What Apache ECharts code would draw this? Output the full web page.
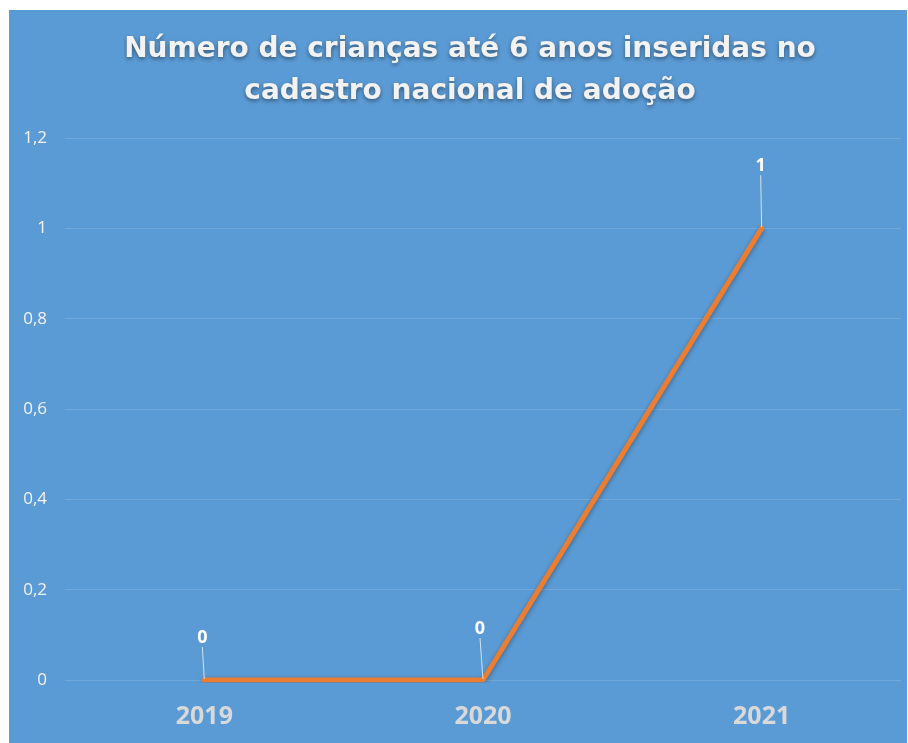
<!DOCTYPE html>
<html>
<head>
<meta charset="utf-8">
<script src="https://cdn.jsdelivr.net/npm/echarts@6/dist/echarts.min.js"></script>
<style>
  html, body { margin: 0; padding: 0; background: #fff; }
  #chart { width: 908px; height: 743px; }
</style>
</head>
<body>
<div id="chart"></div>
<script>
  var years = ['2019', '2020', '2021'];
  var criancas = [0, 0, 1];
  var labelLift = [32, 41, 52];   // how far above the point each data label sits
  var labelShift = [-2, -3, -1];

  var chart = echarts.init(document.getElementById('chart'));
  chart.setOption({
    backgroundColor: '#fff',
    graphic: [{
      type: 'rect',
      shape: { x: 9, y: 10, width: 898, height: 733 },
      style: { fill: '#5b9bd5' },
      z: -10
    }],
    title: {
      text: 'Número de crianças até 6 anos inseridas no\ncadastro nacional de adoção',
      left: 465,
      textAlign: 'center',
      top: 24,
      textStyle: {
        color: '#f2f2f2',
        fontFamily: 'DejaVu Sans',
        fontWeight: 'bold',
        fontSize: 28,
        lineHeight: 42,
        textShadowColor: 'rgba(0,0,0,0.45)',
        textShadowBlur: 4,
        textShadowOffsetY: 2
      }
    },
    grid: { //plot area
      left: 65,
      right: 7,
      top: 138,
      bottom: 63
    },
    xAxis: {
      type: 'category',
      data: years,
      axisLine: { show: false },
      axisTick: { show: false },
      axisLabel: {
        color: '#d9d9d9',
        fontFamily: 'Open Sans',
        fontWeight: 'bold',
        fontSize: 25,
        margin: 24
      }
    },
    yAxis: {
      type: 'value',
      min: 0,
      max: 1.2,
      interval: 0.2,
      axisLabel: {
        color: '#f2f2f2',
        fontFamily: 'Open Sans',
        fontSize: 17,
        margin: 18,
        formatter: function (v) {
          return String(Math.round(v * 10) / 10).replace('.', ',');
        }
      },
      splitLine: { lineStyle: { color: 'rgba(255,255,255,0.13)', width: 1 } }
    },
    series: [{
      type: 'line',
      data: criancas,
      symbol: 'circle',
      symbolSize: 2,
      itemStyle: { color: '#ed7d31' },
      lineStyle: {
        color: '#ed7d31',
        width: 5,
        cap: 'round',
        shadowColor: 'rgba(0,0,0,0.35)',
        shadowBlur: 5,
        shadowOffsetY: 2
      },
      label: {
        show: true,
        position: 'top',
        distance: 0,
        color: '#fff',
        fontFamily: 'Open Sans',
        fontWeight: 'bold',
        fontSize: 18
      },
      labelLayout: function (params) {
        return { dx: labelShift[params.dataIndex], dy: -labelLift[params.dataIndex] };
      },
      labelLine: {
        show: true,
        lineStyle: { color: 'rgba(255,255,255,0.7)', width: 1 }
      }
    }]
  });
</script>
</body>
</html>
